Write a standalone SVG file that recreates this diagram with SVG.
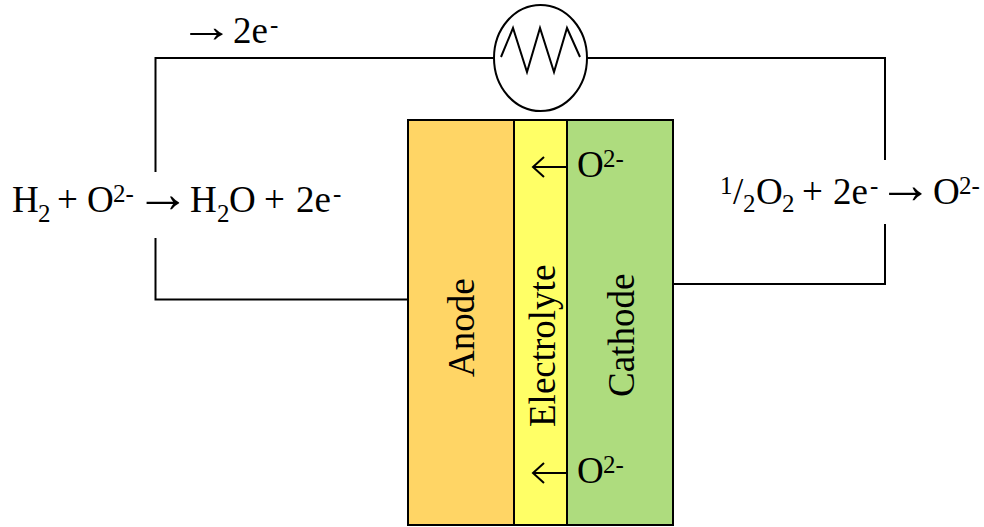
<svg xmlns="http://www.w3.org/2000/svg" width="984" height="527" viewBox="0 0 984 527">
<style>
text{font-family:"Liberation Serif","Times New Roman",serif;font-size:37px;fill:#000}
.s{font-size:25px}
text.a{font-size:55px}
text.t{font-size:46.500px}
.w{fill:none;stroke:#000;stroke-width:2}
.c{stroke:#000;stroke-width:2}
</style>
<rect width="984" height="527" fill="#fff"/>
<g id="connectors">
<path class="w" d="M155.5 172V58H494"/>
<path class="w" d="M155.5 238V299.500H408"/>
<path class="w" d="M587 58H885V160"/>
<path class="w" d="M885 224V284H673"/>
</g>
<g id="load">
<ellipse class="w" cx="540.5" cy="58" rx="46.5" ry="53"/>
<path class="w" d="M501 57L513 28L527 72L540 28L554 72L567 28L580 57"/>
</g>
<g id="anode">
<rect class="c" x="408" y="120" width="106" height="405" fill="#FFD565"/>
<text transform="translate(474 377) rotate(-90)">Anode</text>
</g>
<g id="electrolyte">
<rect class="c" x="514" y="120" width="53" height="405" fill="#FFFF66"/>
<text transform="translate(555 427) rotate(-90)">Electrolyte</text>
<path class="w" d="M567 167H534M544 157L533 167L544 177"/>
<path class="w" d="M567 473H534M544 463L533 473L544 483"/>
</g>
<g id="cathode">
<rect class="c" x="567" y="120" width="106" height="405" fill="#AEDC7E"/>
<text transform="translate(634 397) rotate(-90)">Cathode</text>
<text x="577" y="177">O</text><text class="s" x="603" y="167">2-</text>
<text x="577" y="483">O</text><text class="s" x="603" y="473">2-</text>
</g>
<g id="label-electron">
<text class="t" transform="translate(179 41.800) scale(1.18 1)">→</text><text x="233" y="43">2e</text><text class="s" x="270" y="33">-</text>
</g>
<g id="label-anode-reaction">
<text x="12" y="212">H</text><text class="s" x="38" y="222">2</text><text x="57" y="212">+</text><text x="87" y="212">O</text><text class="s" x="113" y="202">2-</text><text class="a" x="135.500" y="212">→</text><text x="190" y="212">H</text><text class="s" x="217" y="222">2</text><text x="229" y="212">O</text><text x="264" y="212">+</text><text x="296" y="212">2e</text><text class="s" x="333" y="202">-</text>
</g>
<g id="label-cathode-reaction">
<text class="s" x="720" y="194">1</text><text x="733" y="204">/</text><text class="s" x="743" y="212">2</text><text x="756" y="204">O</text><text class="s" x="782" y="212">2</text><text x="802" y="204">+</text><text x="833" y="204">2e</text><text class="s" x="870" y="194">-</text><text class="a" x="878" y="203">→</text><text x="933" y="204">O</text><text class="s" x="959" y="194">2-</text>
</g>
</svg>
